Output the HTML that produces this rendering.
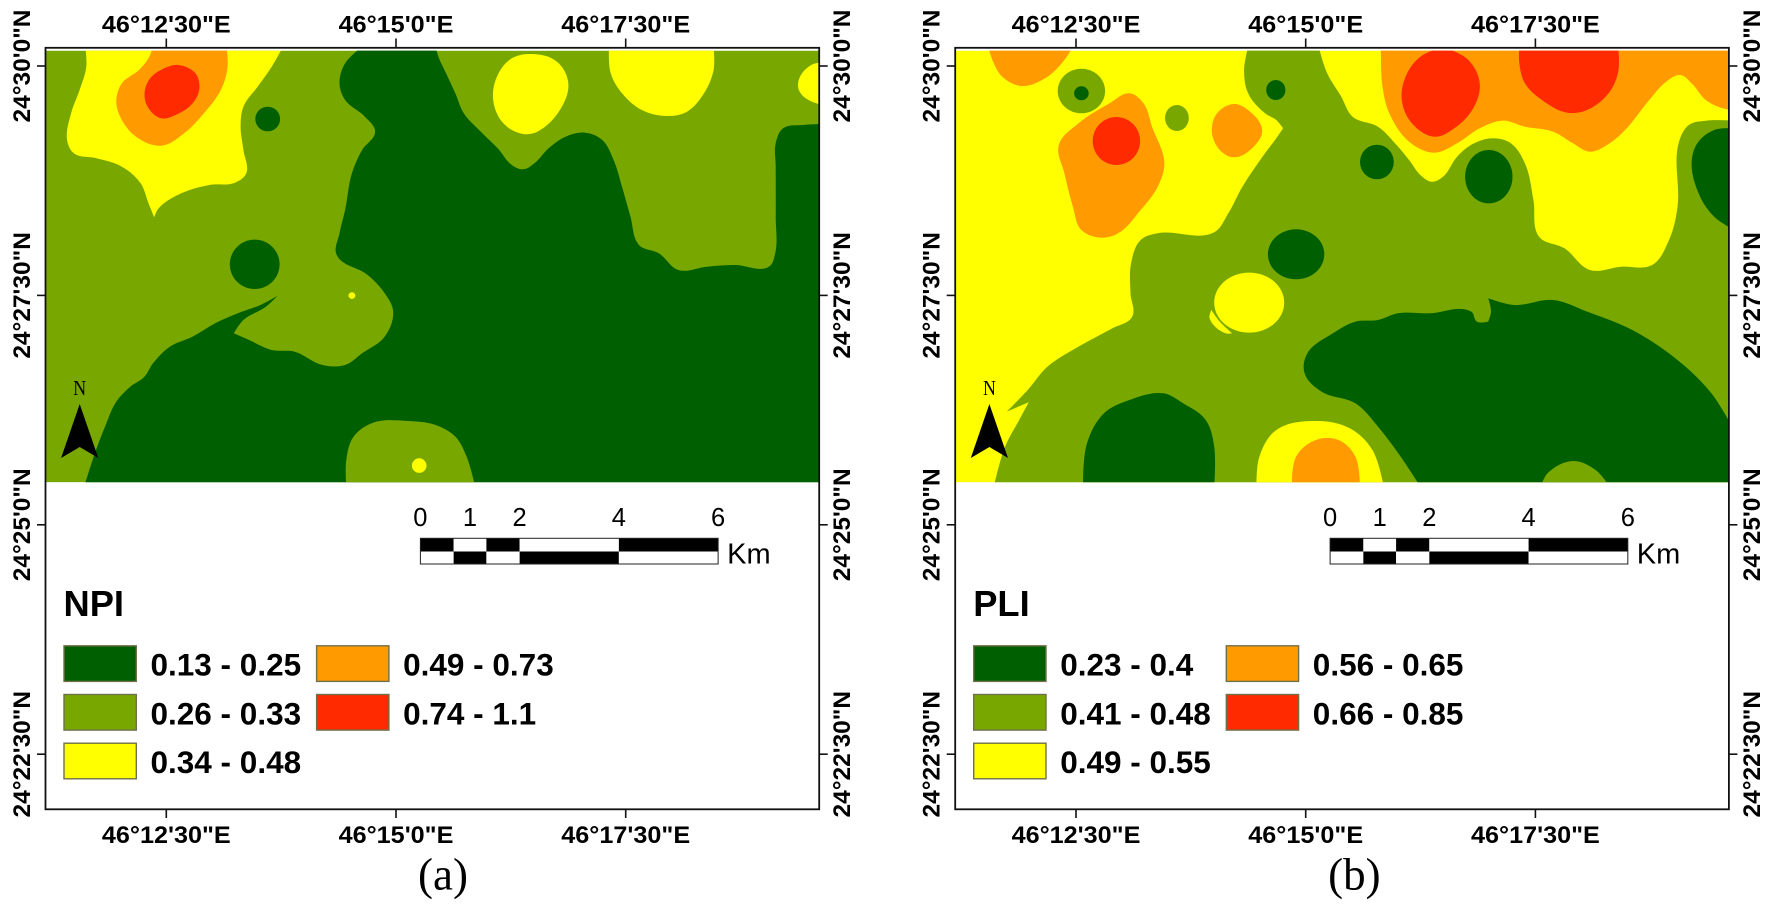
<!DOCTYPE html>
<html lang="en">
<head>
<meta charset="utf-8">
<title>NPI and PLI maps</title>
<style>
html,body{margin:0;padding:0;background:#fff;width:1772px;height:912px;overflow:hidden}
svg{display:block}
text{fill:#000;font-family:"Liberation Sans",sans-serif}
.serif{font-family:"Liberation Serif",serif}
</style>
</head>
<body>
<svg id="figure" xmlns="http://www.w3.org/2000/svg" width="1772" height="912" viewBox="0 0 1772 912"></svg>
<script>
// ---- axis data ----
const lonTicks = [12.5, 15, 17.5];
const lonLabels = ['46°12\'30"E', '46°15\'0"E', '46°17\'30"E'];
const latTicks = [30, 27.5, 25, 22.5];
const latLabels = ['24°30\'0"N', '24°27\'30"N', '24°25\'0"N', '24°22\'30"N'];
const kmTicks = [0, 1, 2, 4, 6];
const kmBlocks = [0, 0.67, 1.33, 2, 4, 6];

// ---- legend data ----
const zoneColors = ['#005f00', '#78a800', '#ffff00', '#ff9a00', '#ff2a00'];
const npiClasses = ['0.13 - 0.25', '0.26 - 0.33', '0.34 - 0.48', '0.49 - 0.73', '0.74 - 1.1'];
const pliClasses = ['0.23 - 0.4', '0.41 - 0.48', '0.49 - 0.55', '0.56 - 0.65', '0.66 - 0.85'];

// ---- contour data: raster [column,row] vertices of the classified grids ----
const npiDarkMain = [[640,140],[770,140],[775,170],[790,225],[805,280],[820,340],[850,395],[880,445],[905,495],[925,508],[945,490],[970,445],[1000,410],[1035,398],[1065,420],[1085,480],[1100,560],[1115,650],[1130,735],[1165,760],[1200,810],[1250,800],[1300,795],[1360,800],[1371,760],[1372,650],[1372,500],[1372,430],[1385,385],[1420,375],[1460,372],[1460,1460],[148,1460],[165,1370],[185,1280],[205,1205],[230,1160],[255,1130],[270,1090],[300,1040],[340,1010],[380,970],[420,940],[460,915],[490,888],[470,920],[430,960],[413,1000],[440,1020],[480,1050],[520,1055],[570,1095],[610,1095],[640,1060],[680,1010],[695,935],[680,880],[650,825],[595,765],[600,700],[610,630],[622,520],[640,450],[663,395],[645,350],[610,300],[600,250],[610,190]];
const npiOliveSouth = [[612,1460],[612,1380],[625,1310],[660,1268],[720,1263],[770,1275],[805,1310],[825,1370],[840,1460]];
const npiYellowNorthwest = [[150,140],[500,140],[480,200],[455,260],[430,320],[425,380],[430,450],[435,520],[415,548],[370,555],[320,580],[280,625],[272,652],[262,610],[248,550],[215,500],[170,475],[130,460],[118,420],[125,340],[140,270],[152,200]];
const npiOrangeNorthwest = [[270,140],[400,140],[402,200],[390,270],[360,340],[325,400],[285,437],[240,410],[212,350],[205,300],[215,250],[245,210],[262,175]];
const npiRedNorthwest = [[315,195],[345,220],[352,265],[340,310],[310,345],[285,355],[262,325],[255,280],[265,235],[290,205]];
const npiYellowNorth1 = [[940,162],[985,185],[1005,250],[990,330],[950,395],[925,402],[890,370],[872,300],[880,225],[905,175]];
const npiYellowNorth2 = [[1077,140],[1262,140],[1262,210],[1245,280],[1215,335],[1180,348],[1135,330],[1100,280],[1080,220]];
const npiYellowNorth3 = [[1460,185],[1435,195],[1415,230],[1412,265],[1425,295],[1460,318]];
// spots: [column, row, column radius, row radius]
const npiDarkSpots = [[473,357,22,37],[450,793,44,74]];
const npiYellowSpots = [[741,1397,13,22],[622,887,6,10]];

const pliOliveMain = [[640,140],[765,140],[780,220],[805,290],[825,350],[870,380],[900,430],[925,480],[945,525],[965,545],[985,530],[1010,470],[1040,430],[1075,415],[1105,430],[1130,490],[1145,600],[1155,710],[1200,745],[1245,810],[1300,800],[1355,795],[1385,720],[1400,620],[1402,430],[1420,375],[1450,362],[1500,362],[1500,1460],[190,1460],[210,1340],[235,1260],[252,1207],[213,1235],[250,1170],[285,1100],[340,1040],[400,985],[435,950],[432,880],[433,790],[450,720],[480,700],[580,697],[605,640],[630,560],[670,460],[690,415],[702,385],[690,360],[670,340],[640,280],[633,210]];
const pliOrangeCorner = [[180,140],[330,140],[315,180],[285,230],[240,258],[205,230],[190,190]];
const pliOrangeWest = [[430,280],[455,310],[470,380],[492,490],[480,560],[450,630],[410,700],[380,713],[345,690],[330,620],[315,520],[305,435],[340,370],[395,310]];
const pliOrangeMid = [[615,312],[640,330],[665,390],[650,440],[615,472],[590,450],[576,395],[585,340]];
const pliOrangeBand = [[875,140],[1500,140],[1500,330],[1480,325],[1450,300],[1425,250],[1405,225],[1380,245],[1350,300],[1310,385],[1280,430],[1245,455],[1215,430],[1180,395],[1130,380],[1090,362],[1050,385],[1010,430],[970,458],[925,425],[890,340],[878,260]];
const pliRedNorth1 = [[985,140],[1030,180],[1050,250],[1040,320],[1005,385],[970,410],[930,370],[912,300],[920,225],[945,170]];
const pliRedNorth2 = [[1120,140],[1295,140],[1295,215],[1280,275],[1240,330],[1205,338],[1160,300],[1130,250],[1120,190]];
const pliDarkEast = [[1500,385],[1465,390],[1435,430],[1425,490],[1440,590],[1465,650],[1500,690]];
const pliDarkSouth = [[1065,895],[1110,915],[1180,900],[1240,935],[1320,990],[1400,1080],[1460,1180],[1500,1290],[1500,1460],[945,1460],[910,1370],[870,1280],[830,1210],[770,1175],[740,1120],[745,1060],[790,1000],[830,965],[870,960],[905,940],[960,940],[1035,935],[1045,965],[1065,965],[1070,935]];
const pliOliveSouthEast = [[1158,1460],[1170,1420],[1215,1383],[1255,1410],[1280,1460]];
const pliDarkSouthWest = [[348,1460],[355,1330],[385,1240],[430,1200],[490,1180],[525,1210],[565,1260],[580,1340],[580,1460]];
const pliYellowSouth = [[655,1460],[660,1370],[690,1290],[760,1263],[820,1285],[860,1350],[880,1460]];
const pliOrangeSouth = [[718,1460],[725,1370],[760,1320],[800,1320],[830,1370],[838,1460]];
const pliYellowSliver = [[575,930],[590,965],[612,1000],[600,1000],[572,955]];
const pliOliveSpots = [[345,273,42,67],[514,354,21,39]];
const pliDarkSpots = [[345,280,13,21],[689,270,17,30],[868,486,30,52],[1066,530,42,80],[725,763,50,75]];
const pliRedSpots = [[407,423,42,72]];
const pliYellowSpots = [[642,908,62,90]];

// ---- layers, in paint order: [name, class index, kind, data] ----
const npiLayers = [
  ['dark-zone-main', 0, 'ring', npiDarkMain],
  ['olive-zone-south', 1, 'ring', npiOliveSouth],
  ['yellow-zone-northwest', 2, 'ring', npiYellowNorthwest],
  ['orange-zone-northwest', 3, 'ring', npiOrangeNorthwest],
  ['red-zone-northwest', 4, 'ring', npiRedNorthwest],
  ['yellow-zone-north-1', 2, 'ring', npiYellowNorth1],
  ['yellow-zone-north-2', 2, 'ring', npiYellowNorth2],
  ['yellow-zone-north-3', 2, 'ring', npiYellowNorth3],
  ['dark-spot', 0, 'spots', npiDarkSpots],
  ['yellow-spot', 2, 'spots', npiYellowSpots]
];
const pliLayers = [
  ['olive-zone-main', 1, 'ring', pliOliveMain],
  ['orange-zone-corner', 3, 'ring', pliOrangeCorner],
  ['olive-spot', 1, 'spots', pliOliveSpots],
  ['orange-zone-west', 3, 'ring', pliOrangeWest],
  ['orange-zone-mid', 3, 'ring', pliOrangeMid],
  ['orange-zone-band', 3, 'ring', pliOrangeBand],
  ['red-zone-north-1', 4, 'ring', pliRedNorth1],
  ['red-zone-north-2', 4, 'ring', pliRedNorth2],
  ['red-spot', 4, 'spots', pliRedSpots],
  ['dark-zone-east', 0, 'ring', pliDarkEast],
  ['dark-zone-south', 0, 'ring', pliDarkSouth],
  ['olive-zone-southeast', 1, 'ring', pliOliveSouthEast],
  ['dark-zone-southwest', 0, 'ring', pliDarkSouthWest],
  ['yellow-zone-south', 2, 'ring', pliYellowSouth],
  ['orange-zone-south', 3, 'ring', pliOrangeSouth],
  ['yellow-spot', 2, 'spots', pliYellowSpots],
  ['yellow-sliver', 2, 'ring', pliYellowSliver],
  ['dark-spot', 0, 'spots', pliDarkSpots]
];

// ---- axis functions ----
const svg = document.getElementById('figure');
const NS = 'http://www.w3.org/2000/svg';
function lonToX(panel, minutes) { return 396 + (minutes - 15) * 91.88 + panel.dx; }
function latToY(minutes) { return 66 + (30 - minutes) * 91.76; }
function colToLon(panel, col) { return 15 + (col - panel.col0) / 162.6; }
function rowToLat(row) { return 30 - (row - 198) / 275.3; }
function cellX(panel, col) { return lonToX(panel, colToLon(panel, col)); }
function cellY(row) { return latToY(rowToLat(row)); }
function kmToX(panel, km) { return 420.4 + km * 49.62 + panel.dx; }

function make(parent, tag, attrs) {
  const el = document.createElementNS(NS, tag);
  for (const k in attrs) el.setAttribute(k, attrs[k]);
  parent.appendChild(el);
  return el;
}
function label(parent, str, x, y, size, opts) {
  const o = opts || {};
  const rot = o.rotate ? ' rotate(' + o.rotate + ')' : '';
  const el = make(parent, 'text', {
    transform: 'translate(' + x.toFixed(1) + ',' + y.toFixed(1) + ')' + rot + ' scale(' + (o.sx || 1) + ',1)',
    'font-size': size,
    'text-anchor': o.anchor || 'start'
  });
  if (o.bold) el.setAttribute('font-weight', 'bold');
  if (o.serif) el.setAttribute('class', 'serif');
  el.textContent = str;
  return el;
}
// Smooth closed contour: tangents follow neighbours, but vertices outside the
// map window and sharp cusps stay as corners.
function ringPath(panel, pts) {
  const P = pts.map(function (p) { return [cellX(panel, p[0]), cellY(p[1])]; });
  const n = P.length;
  const outside = pts.map(function (p) {
    return p[1] < 150 || p[1] > 1450 || p[0] < panel.col0 - 622 || p[0] > panel.col0 + 752;
  });
  const T = P.map(function (p, i) {
    const a = P[(i - 1 + n) % n], b = P[(i + 1) % n];
    if (outside[i]) return [0, 0];
    const ux = p[0] - a[0], uy = p[1] - a[1], vx = b[0] - p[0], vy = b[1] - p[1];
    const lu = Math.hypot(ux, uy) || 1, lv = Math.hypot(vx, vy) || 1;
    if ((ux * vx + uy * vy) / (lu * lv) < 0.3) return [0, 0];
    const tx = ux / lu + vx / lv, ty = uy / lu + vy / lv, lt = Math.hypot(tx, ty) || 1;
    return [tx / lt, ty / lt];
  });
  let d = 'M' + P[0][0].toFixed(1) + ' ' + P[0][1].toFixed(1);
  for (let i = 0; i < n; i++) {
    const j = (i + 1) % n;
    const len = Math.hypot(P[j][0] - P[i][0], P[j][1] - P[i][1]) * 0.34;
    d += 'C' + (P[i][0] + T[i][0] * len).toFixed(1) + ' ' + (P[i][1] + T[i][1] * len).toFixed(1) + ' ' +
      (P[j][0] - T[j][0] * len).toFixed(1) + ' ' + (P[j][1] - T[j][1] * len).toFixed(1) + ' ' +
      P[j][0].toFixed(1) + ' ' + P[j][1].toFixed(1);
  }
  return d + 'Z';
}

function drawPanel(panel) {
  const g = make(svg, 'g', {});
  
  

  const left = lonToX(panel, 15) - 350.5, right = left + 773.7;
  const frameTop = 47.8, frameBottom = 809.3;
  const mapTop = cellY(152), mapBottom = cellY(1447);

  const clip = make(g, 'clipPath', { id: 'clip-' + panel.id });
  make(clip, 'rect', { x: left, y: mapTop, width: right - left, height: mapBottom - mapTop });

  const map = make(g, 'g', { 'clip-path': 'url(#clip-' + panel.id + ')' });
  
  

  const base = make(map, 'rect', { x: left, y: mapTop, width: right - left, height: mapBottom - mapTop, fill: zoneColors[panel.baseClass] });
  
  

  panel.layers.forEach(function (layer) {
    const color = zoneColors[layer[1]];
    if (layer[2] === 'ring') {
      const path = make(map, 'path', { d: ringPath(panel, layer[3]), fill: color });
      
      
    } else {
      layer[3].forEach(function (s) {
        const sp = make(map, 'ellipse', {
          cx: cellX(panel, s[0]).toFixed(1),
          cy: cellY(s[1]).toFixed(1),
          rx: (s[2] / 1.77).toFixed(1),
          ry: (s[3] / 3).toFixed(1),
          fill: color
        });
        
        
      });
    }
  });

  const frame = make(g, 'rect', { x: left, y: frameTop, width: right - left, height: frameBottom - frameTop, fill: 'none', stroke: '#111', 'stroke-width': 1.8 });
  
  

  lonTicks.forEach(function (m, i) {
    const x = lonToX(panel, m);
    const t1 = make(g, 'line', { x1: x, x2: x, y1: frameTop, y2: 38.5, stroke: '#111', 'stroke-width': 1.6 });
    
    
    const t2 = make(g, 'line', { x1: x, x2: x, y1: frameBottom, y2: 818, stroke: '#111', 'stroke-width': 1.6 });
    
    
    const l1 = label(g, lonLabels[i], x, 32.3, 24, { anchor: 'middle', sx: 1.05, bold: true });
    
    
    const l2 = label(g, lonLabels[i], x, 842.8, 24, { anchor: 'middle', sx: 1.05, bold: true });
    
    
  });

  latTicks.forEach(function (m, i) {
    const y = latToY(m);
    const t1 = make(g, 'line', { x1: left, x2: left - 8.5, y1: y, y2: y, stroke: '#111', 'stroke-width': 1.6 });
    
    
    const t2 = make(g, 'line', { x1: right, x2: right + 8.5, y1: y, y2: y, stroke: '#111', 'stroke-width': 1.6 });
    
    
    const l1 = label(g, latLabels[i], left - 15.5, y, 24, { anchor: 'middle', rotate: -90, sx: 1.02, bold: true });
    
    
    const l2 = label(g, latLabels[i], right + 31, y, 24, { anchor: 'middle', rotate: -90, sx: 1.02, bold: true });
    
    
  });

  // north arrow
  const nx = 79.7 + panel.dx;
  const arrow = make(g, 'g', {});
  
  
  make(arrow, 'path', { d: 'M' + nx + ' 404L' + (nx - 18.6) + ' 458L' + nx + ' 447L' + (nx + 18.6) + ' 458Z', fill: '#000' });
  label(arrow, 'N', nx, 395, 21, { anchor: 'middle', serif: true, sx: 0.85 });

  // scale bar
  const bar = make(g, 'g', {});
  
  
  for (let i = 0; i < kmBlocks.length - 1; i++) {
    const x0 = kmToX(panel, kmBlocks[i]), x1 = kmToX(panel, kmBlocks[i + 1]);
    make(bar, 'rect', { x: x0, y: 538.3, width: x1 - x0, height: 13.2, fill: i % 2 === 0 ? '#000' : '#fff' });
    make(bar, 'rect', { x: x0, y: 551.5, width: x1 - x0, height: 12.5, fill: i % 2 === 0 ? '#fff' : '#000' });
  }
  make(bar, 'rect', { x: kmToX(panel, 0), y: 538.3, width: kmToX(panel, 6) - kmToX(panel, 0), height: 25.7, fill: 'none', stroke: '#222', 'stroke-width': 1 });
  kmTicks.forEach(function (km) {
    const tl = label(bar, String(km), kmToX(panel, km), 526, 25.5, { anchor: 'middle' });
    
    
  });
  const unit = label(bar, 'Km', kmToX(panel, 6) + 9, 563.3, 29);
  
  

  // legend
  const legend = make(g, 'g', {});
  
  
  const title = label(legend, panel.title, 63.5 + panel.dx, 616, 36.3, { bold: true });
  
  
  panel.classes.forEach(function (str, i) {
    const col = i < 3 ? 0 : 1;
    const row = i < 3 ? i : i - 3;
    const sx = 64 + col * 252.6 + panel.dx;
    const sy = 645.8 + row * 48.7;
    const sw = make(legend, 'rect', { x: sx, y: sy, width: 72.3, height: 35.6, fill: zoneColors[i], stroke: '#70704a', 'stroke-width': 1.4 });
    
    
    const tx = label(legend, str, sx + 86.5, sy + 29.8, 31.5, { bold: true });
    
    
  });

  const cap = label(g, panel.caption, panel.captionX, 889.5, 45, { anchor: 'middle', serif: true });
  
  
}

drawPanel({ id: 'npi', dx: 0, col0: 700, baseClass: 1, layers: npiLayers, title: 'NPI', classes: npiClasses, caption: '(a)', captionX: 443 });
drawPanel({ id: 'pli', dx: 909.7, col0: 742, baseClass: 2, layers: pliLayers, title: 'PLI', classes: pliClasses, caption: '(b)', captionX: 1354.4 });
</script>
</body>
</html>
